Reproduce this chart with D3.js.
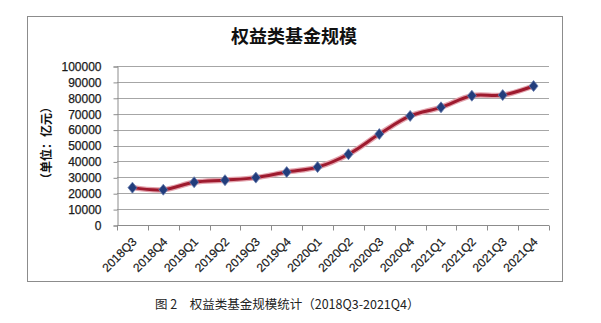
<!DOCTYPE html>
<html>
<head>
<meta charset="utf-8">
<script src="https://cdn.jsdelivr.net/npm/d3@7"></script>
<style>
  html, body { margin: 0; padding: 0; background: #fff; }
  svg { display: block; }
</style>
</head>
<body>
<div id="chart"></div>
<script>
// equity fund size, 2018Q3 - 2021Q4 (unit: 100m yuan)

var quarters = ['2018Q3', '2018Q4', '2019Q1', '2019Q2', '2019Q3', '2019Q4', '2020Q1',
                '2020Q2', '2020Q3', '2020Q4', '2021Q1', '2021Q2', '2021Q3', '2021Q4'];
var fundSize = [23500, 22200, 26900, 28200, 29800, 33300, 36400,
                44500, 57200, 68600, 74000, 81300, 81700, 87400];
var yTicks = [0, 10000, 20000, 30000, 40000, 50000, 60000, 70000, 80000, 90000, 100000];

var width = 601, height = 323;
var plot = { left: 117, right: 549, top: 66, bottom: 225 };

var svg = d3.select('#chart').append('svg')
    .attr('width', width)
    .attr('height', height);

// outer frame
svg.append('rect')
    .attr('x', 27.5).attr('y', 16.5)
    .attr('width', 535).attr('height', 265)
    .attr('fill', '#fff')
    .attr('stroke', '#8c8c8c')
    .attr('stroke-width', 1);

var x = d3.scaleBand()
    .domain(quarters)
    .range([plot.left, plot.right]);

var y = d3.scaleLinear()
    .domain([0, 100000])
    .range([plot.bottom, plot.top]);

// gridlines
svg.append('g')
    .selectAll('line')
    .data(yTicks.slice(1))
    .enter().append('line')
    .attr('x1', plot.left).attr('x2', plot.right)
    .attr('y1', function(d) { return Math.round(y(d)) + 0.5; })
    .attr('y2', function(d) { return Math.round(y(d)) + 0.5; })
    .attr('stroke', '#a6a6a6')
    .attr('stroke-width', 1);

// y axis
var yAxis = svg.append('g')
    .attr('transform', 'translate(' + (plot.left + 0.5) + ',0.5)')
    .call(d3.axisLeft(y).tickValues(yTicks).tickSize(4).tickPadding(12)
        .tickFormat(d3.format('d')));
yAxis.select('.domain').attr('stroke', '#8c8c8c');
yAxis.selectAll('.tick line').attr('stroke', '#8c8c8c');
yAxis.selectAll('text')
    .attr('fill', '#1a1a1a')
    .style('font', '12px "Liberation Sans", Arial, sans-serif')
    .style('stroke', '#1a1a1a')
    .style('stroke-width', 0.25);

// x axis, ticks at band edges
var xAxis = svg.append('g')
    .attr('transform', 'translate(0,' + (plot.bottom + 0.5) + ')');
xAxis.append('line')
    .attr('x1', plot.left).attr('x2', plot.right)
    .attr('stroke', '#8c8c8c');
xAxis.selectAll('line.edge')
    .data(quarters.concat(['end']))
    .enter().append('line')
    .attr('class', 'edge')
    .attr('x1', function(d, i) { return Math.round(plot.left + i * x.step()) + 0.5; })
    .attr('x2', function(d, i) { return Math.round(plot.left + i * x.step()) + 0.5; })
    .attr('y1', 0).attr('y2', 5)
    .attr('stroke', '#8c8c8c');
xAxis.selectAll('text')
    .data(quarters)
    .enter().append('text')
    .attr('transform', function(d) {
        return 'translate(' + (x(d) + x.bandwidth() / 2 - 1) + ',11) rotate(-45)';
    })
    .attr('text-anchor', 'end')
    .attr('dy', '0.7em')
    .attr('fill', '#1a1a1a')
    .style('font', '12px "Liberation Sans", Arial, sans-serif')
    .style('stroke', '#1a1a1a')
    .style('stroke-width', 0.2)
    .text(function(d) { return d; });

// title
svg.append('text')
    .attr('x', 294).attr('y', 43)
    .attr('text-anchor', 'middle')
    .attr('fill', '#111')
    .style('font', 'bold 18px "Noto Sans CJK SC", sans-serif')
    .text('权益类基金规模');

// y label
svg.append('text')
    .attr('transform', 'translate(51,143) rotate(-90)')
    .attr('text-anchor', 'middle')
    .attr('fill', '#111')
    .style('font', 'bold 12px "Noto Sans CJK SC", sans-serif')
    .text('（单位：亿元）');

// series line (smoothed, with light halo)
var line = d3.line()
    .x(function(d, i) { return x(quarters[i]) + x.bandwidth() / 2; })
    .y(function(d) { return y(d); })
    .curve(d3.curveCatmullRom.alpha(0.5));

svg.append('path')
    .datum(fundSize)
    .attr('d', line)
    .attr('fill', 'none')
    .attr('stroke', '#e3a3ad')
    .attr('stroke-width', 5.5)
    .attr('stroke-linejoin', 'round');

svg.append('path')
    .datum(fundSize)
    .attr('d', line)
    .attr('fill', 'none')
    .attr('stroke', '#9e1a2e')
    .attr('stroke-width', 3)
    .attr('stroke-linejoin', 'round');

// diamond markers
svg.append('g')
    .selectAll('path')
    .data(fundSize)
    .enter().append('path')
    .attr('transform', function(d, i) {
        return 'translate(' + (x(quarters[i]) + x.bandwidth() / 2) + ',' + y(d) + ')';
    })
    .attr('d', 'M0,-5.5L4.5,0L0,5.5L-4.5,0Z')
    .attr('fill', '#223d7c')
    .attr('stroke', '#6a7fb0')
    .attr('stroke-width', 0.8);

// caption below the frame
svg.append('text')
    .attr('x', 155).attr('y', 309)
    .attr('fill', '#222')
    .style('font', '12.5px "Noto Sans CJK SC", sans-serif')
    .text('图 2　权益类基金规模统计（2018Q3-2021Q4）');
</script>
</body>
</html>
